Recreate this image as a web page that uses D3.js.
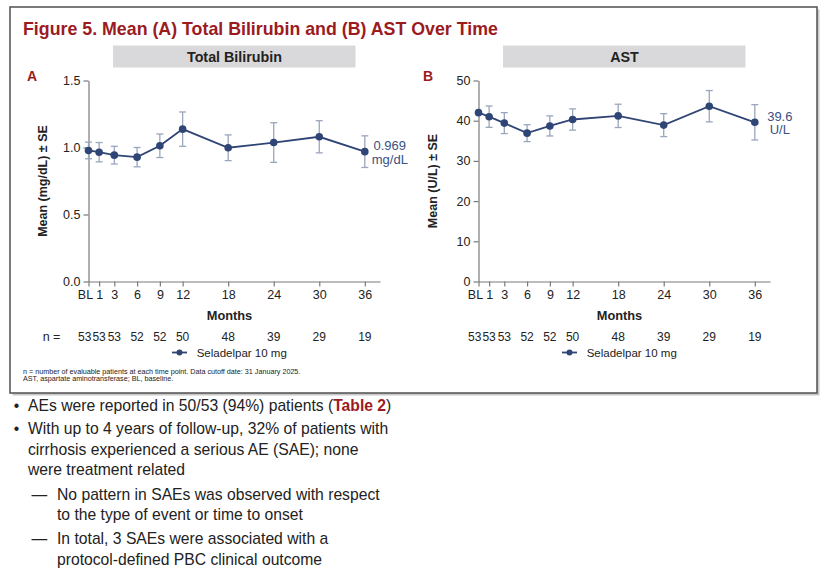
<!DOCTYPE html>
<html><head><meta charset="utf-8">
<script src="https://cdn.jsdelivr.net/npm/d3@7"></script>
<style>body{margin:0;background:#fff}svg{display:block;font-family:"Liberation Sans",Arial,sans-serif}</style>
</head><body><svg id="c" width="836" height="569"></svg>
<script>
// ---- data ----
const timeLabels = ["BL","1","3","6","9","12","18","24","30","36"];
const timeMonths = [-0.4, 1, 3, 6, 9, 12, 18, 24, 30, 36];
const nPatients = [53, 53, 53, 52, 52, 50, 48, 39, 29, 19];
const biliMean = [0.978, 0.965, 0.943, 0.928, 1.013, 1.137, 0.998, 1.037, 1.080, 0.969];
const biliSE   = [0.062, 0.072, 0.066, 0.072, 0.088, 0.128, 0.096, 0.148, 0.120, 0.118];
const astMean  = [42.0, 41.0, 39.4, 36.9, 38.7, 40.3, 41.2, 38.9, 43.6, 39.6];
const astSE    = [null, 2.65, 2.6, 2.1, 2.5, 2.65, 2.9, 2.85, 3.9, 4.4];
const biliTicks = [0, 0.5, 1.0, 1.5];
const astTicks = [0, 10, 20, 30, 40, 50];
const seriesName = "Seladelpar 10 mg";

const RED = "#9b1b1f", NAVY = "#2f4575", ERR = "#9aa6bd", AX = "#7a7a7a", TXT = "#222";
const svg = d3.select("#c");

// frame with shadow
svg.append("rect").attr("x",12.5).attr("y",9.5).attr("width",807).attr("height",386).attr("fill","#c8c8c8");
svg.append("rect").attr("x",10).attr("y",7).attr("width",807).attr("height",386)
  .attr("fill","#fff").attr("stroke","#5a5a5a").attr("stroke-width",1.6);

svg.append("text").attr("x",23).attr("y",35).attr("fill",RED).attr("font-weight","bold")
  .attr("font-size","17.8px").text("Figure 5. Mean (A) Total Bilirubin and (B) AST Over Time");

const panels = [
  {dx:0, letterX:27, header:"Total Bilirubin", letter:"A", mean:biliMean, se:biliSE, dom:[0,1.5], ticks:biliTicks,
   fmt:d3.format(".1f"), ylabel:"Mean (mg/dL) \u00b1 SE", end:["0.969","mg/dL"], nLabel:true},
  {dx:390, letterX:423, header:"AST", letter:"B", mean:astMean, se:astSE, dom:[0,50], ticks:astTicks,
   fmt:d3.format("d"), ylabel:"Mean (U/L) \u00b1 SE", end:["39.6","U/L"], nLabel:false}
];

panels.forEach(p => {
  const dx = p.dx;
  const x = d3.scaleLinear().domain([-0.4, 38]).range([88.5+dx, 380+dx]);
  const y = d3.scaleLinear().domain(p.dom).range([281.5, 80.5]);

  svg.append("rect").attr("x",113+dx).attr("y",45.5).attr("width",242.5).attr("height",22).attr("fill","#d9d9db");
  svg.append("text").attr("x",234.5+dx).attr("y",62).attr("text-anchor","middle").attr("font-weight","bold")
    .attr("font-size","14.3px").attr("fill",TXT).text(p.header);
  svg.append("text").attr("x",p.letterX).attr("y",80.5).attr("font-weight","bold").attr("font-size","14px")
    .attr("fill",RED).text(p.letter);

  const ga = svg.append("g").attr("transform",`translate(${x(-0.4)},0)`)
    .call(d3.axisLeft(y).tickValues(p.ticks).tickFormat(p.fmt).tickSize(5).tickSizeOuter(0).tickPadding(3));
  const gb = svg.append("g").attr("transform",`translate(0,${y(0)})`)
    .call(d3.axisBottom(x).tickValues(timeMonths).tickFormat((d,i)=>timeLabels[i]).tickSize(5).tickSizeOuter(0).tickPadding(4));
  [ga,gb].forEach(g => {
    g.selectAll("path,line").attr("stroke",AX).attr("stroke-width",1.2);
    g.selectAll("text").attr("fill",TXT).attr("font-size","12.5px").attr("font-family",null);
  });
  gb.selectAll(".tick text").filter((d,i)=>i===0).attr("dx","-3.5");

  svg.append("text").attr("transform",`translate(${46.5+dx},181) rotate(-90)`).attr("text-anchor","middle")
    .attr("font-weight","bold").attr("font-size","12.5px").attr("fill",TXT).text(p.ylabel);

  // error bars
  const eb = svg.append("g").attr("stroke",ERR).attr("stroke-width",1.3).attr("fill","none");
  p.mean.forEach((m,i) => {
    const s = p.se[i];
    if (s == null) return;
    const cx = x(timeMonths[i]);
    eb.append("line").attr("x1",cx).attr("x2",cx).attr("y1",y(m-s)).attr("y2",y(m+s));
    eb.append("line").attr("x1",cx-3.5).attr("x2",cx+3.5).attr("y1",y(m-s)).attr("y2",y(m-s));
    eb.append("line").attr("x1",cx-3.5).attr("x2",cx+3.5).attr("y1",y(m+s)).attr("y2",y(m+s));
  });
  const pts = p.mean.map((m,i)=>[timeMonths[i], m]);
  svg.append("path").datum(pts).attr("fill","none").attr("stroke",NAVY).attr("stroke-width",1.8)
    .attr("d", d3.line().x(d=>x(d[0])).y(d=>y(d[1])));
  svg.append("g").selectAll("circle").data(pts).join("circle")
    .attr("cx",d=>x(d[0])).attr("cy",d=>y(d[1])).attr("r",3.8).attr("fill",NAVY);

  const last = pts[pts.length-1];
  const lx = x(last[0]) + 25, ly = y(last[1]);
  svg.append("text").attr("x",lx).attr("y",ly-1.3).attr("text-anchor","middle").attr("font-size","13px").attr("fill","#3b5183").text(p.end[0]);
  svg.append("text").attr("x",lx).attr("y",ly+12.1).attr("text-anchor","middle").attr("font-size","13px").attr("fill","#3b5183").text(p.end[1]);

  svg.append("text").attr("x",229.5+dx).attr("y",320).attr("text-anchor","middle").attr("font-weight","bold")
    .attr("font-size","12.8px").attr("fill",TXT).text("Months");

  if (p.nLabel) svg.append("text").attr("x",42.7).attr("y",340.5).attr("font-size","12.5px").attr("fill",TXT).text("n =");
  svg.append("g").selectAll("text").data(nPatients).join("text")
    .attr("x",(d,i)=>x(timeMonths[i]) - (i===0 ? 3.8 : 0)).attr("y",340.5).attr("text-anchor","middle")
    .attr("font-size","12px").attr("fill",TXT).text(d=>d);

  svg.append("line").attr("x1",172+dx).attr("x2",187+dx).attr("y1",352.5).attr("y2",352.5).attr("stroke",NAVY).attr("stroke-width",1.8);
  svg.append("circle").attr("cx",179.5+dx).attr("cy",352.5).attr("r",3).attr("fill",NAVY);
  svg.append("text").attr("x",196.7+dx).attr("y",356.5).attr("font-size","11.5px").attr("fill",TXT).text(seriesName);
});

// footnotes
svg.append("text").attr("x",23).attr("y",373.5).attr("font-size","7.2px").attr("fill",TXT)
  .text("n = number of evaluable patients at each time point. Data cutoff date: 31 January 2025.");
svg.append("text").attr("x",23).attr("y",381).attr("font-size","7.2px").attr("fill",TXT)
  .text("AST, aspartate aminotransferase; BL, baseline.");

// bullets
const fs = "15.7px";
function line(xp, yp, parts) {
  const t = svg.append("text").attr("x",xp).attr("y",yp).attr("font-size",fs).attr("fill",TXT);
  parts.forEach(pt => {
    const s = t.append("tspan").text(pt.t);
    if (pt.b) s.attr("font-weight","bold").attr("fill",RED);
  });
}
svg.append("text").attr("x",16.5).attr("y",410.5).attr("text-anchor","middle").attr("font-size",fs).attr("fill",TXT).text("\u2022");
line(28, 410.5, [{t:"AEs were reported in 50/53 (94%) patients ("},{t:"Table 2",b:true},{t:")"}]);
svg.append("text").attr("x",16.5).attr("y",434).attr("text-anchor","middle").attr("font-size",fs).attr("fill",TXT).text("\u2022");
line(28, 434, [{t:"With up to 4 years of follow-up, 32% of patients with"}]);
line(28, 454.5, [{t:"cirrhosis experienced a serious AE (SAE); none"}]);
line(28, 474.5, [{t:"were treatment related"}]);
line(31.5, 499.5, [{t:"\u2014"}]);
line(57, 499.5, [{t:"No pattern in SAEs was observed with respect"}]);
line(57, 519.5, [{t:"to the type of event or time to onset"}]);
line(31.5, 544, [{t:"\u2014"}]);
line(57, 544, [{t:"In total, 3 SAEs were associated with a"}]);
line(57, 564.5, [{t:"protocol-defined PBC clinical outcome"}]);
</script></body></html>
